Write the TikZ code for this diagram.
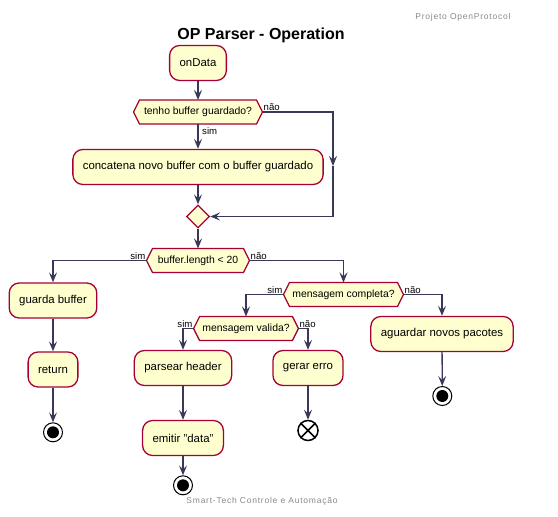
\documentclass[tikz,border=0pt]{standalone}
\usepackage{fontspec}
\setmainfont{Liberation Sans}
\newfontfamily\spacedfont[LetterSpace=9]{Liberation Sans}
\usetikzlibrary{arrows.meta,shapes.geometric}
\definecolor{actfill}{HTML}{FEFECE}
\definecolor{actline}{HTML}{A80036}
\definecolor{arrcol}{HTML}{383858}
\definecolor{greytext}{HTML}{888888}
\tikzset{
  act/.style={draw=actline, fill=actfill, line width=1.3pt, rounded corners=10pt,
    minimum height=35pt, inner xsep=10pt, font=\fontsize{11.4}{13}\selectfont},
  hexline/.style={draw=actline, fill=actfill, line width=1.3pt, line join=miter},
  hexlabel/.style={inner sep=0pt, font=\fontsize{10.4}{12}\selectfont},
  flow/.style={draw=arrcol, line width=1.3pt, -{Stealth[length=10pt,width=8pt,inset=4pt]}},
  lbl/.style={inner sep=1pt, font=\fontsize{9.6}{11}\selectfont},
  endout/.style={circle, draw=black, line width=1pt, fill=white, minimum size=19pt, inner sep=0pt},
  endx/.style={circle, draw=black, line width=1.5pt, fill=white, minimum size=20pt, inner sep=0pt},
  merge/.style={diamond, draw=actline, fill=actfill, line width=1.3pt, minimum size=23pt, inner sep=0pt},
  note/.style={text=greytext, font=\fontsize{8.5}{10}\spacedfont}
}
% name, x, y, half width, text
\newcommand\hexnode[5]{%
  \draw[hexline] (#2-#4,#3) -- (#2-#4+6,#3-12) -- (#2+#4-6,#3-12) -- (#2+#4,#3)
     -- (#2+#4-6,#3+12) -- (#2-#4+6,#3+12) -- cycle;
  \node[hexlabel] (#1) at (#2,#3) {#5};
  \coordinate (#1-l) at (#2-#4,#3);
  \coordinate (#1-r) at (#2+#4,#3);
  \coordinate (#1-t) at (#2,#3-12);
  \coordinate (#1-b) at (#2,#3+12);
}
\begin{document}
\begin{tikzpicture}[x=1pt,y=-1pt]
\useasboundingbox (0,0) rectangle (558,517);

\node[note, anchor=east] (hdr) at (514,17) {Projeto OpenProtocol};
\node[font=\fontsize{16}{19}\bfseries\selectfont] (title) at (261,35) {OP Parser - Operation};
\node[note] (ftr) at (262,501) {Smart-Tech Controle e Automação};

% nodes
\node[act] (ondata) at (198,63) {onData};
\hexnode{d1}{198}{112}{64.5}{tenho buffer guardado?}
\node[act] (conc) at (198,167) {concatena novo buffer com o buffer guardado};
\node[merge] (m) at (198,216.5) {};
\hexnode{d2}{198}{260.5}{51.5}{buffer.length < 20}
\node[act] (guarda) at (53,300.5) {guarda buffer};
\node[act] (ret) at (53,369.5) {return};
\node[endout] (e1) at (53,432.3) {};
\fill (e1.center) circle (6pt);
\hexnode{d3}{343.5}{294.5}{60}{mensagem completa?}
\node[act] (aguard) at (442,334) {aguardar novos pacotes};
\node[endout] (e3) at (442.3,396) {};
\fill (e3.center) circle (6pt);
\hexnode{d4}{246}{328.5}{52.4}{mensagem valida?}
\node[act] (pars) at (183,368) {parsear header};
\node[act] (emit) at (183,438) {emitir "data"};
\node[endout] (e2) at (183,485.3) {};
\fill (e2.center) circle (6pt);
\node[act] (gerar) at (308,368) {gerar erro};
\node[endx] (x1) at (308,430.5) {};
\draw[line width=1.5pt] (x1.north west) -- (x1.south east) (x1.north east) -- (x1.south west);

% connectors
\draw[flow] (ondata) -- (d1-t);
\draw[flow] (d1-b) -- (conc);
\node[lbl, anchor=west] (d1sim) at (201,131.5) {sim};
\node[lbl, anchor=south west] (d1nao) at (d1-r) {não};
\coordinate (midr) at (333,166);
\draw[flow] (d1-r) -| (midr);
\draw[flow] (midr) |- (m.east);
\draw[flow] (conc) -- (m);
\draw[flow] (m) -- (d2-t);

\draw[flow] (d2-l) -| (guarda.north);
\node[lbl, anchor=south east] (d2sim) at (d2-l) {sim};
\draw[flow] (d2-r) -| (d3-t);
\node[lbl, anchor=south west] (d2nao) at (d2-r) {não};
\draw[flow] (guarda) -- (ret);
\draw[flow] (ret) -- (e1);

\draw[flow] (d3-l) -| (d4-t);
\node[lbl, anchor=south east] (d3sim) at (d3-l) {sim};
\draw[flow] (d3-r) -| (aguard.north);
\node[lbl, anchor=south west] (d3nao) at (d3-r) {não};
\draw[flow] (aguard) -- (e3);

\draw[flow] (d4-l) -| (pars.north);
\node[lbl, anchor=south east] (d4sim) at (d4-l) {sim};
\draw[flow] (d4-r) -| (gerar.north);
\node[lbl, anchor=south west] (d4nao) at (d4-r) {não};
\draw[flow] (pars) -- (emit);
\draw[flow] (emit) -- (e2);
\draw[flow] (gerar) -- (x1);
\end{tikzpicture}
\end{document}
